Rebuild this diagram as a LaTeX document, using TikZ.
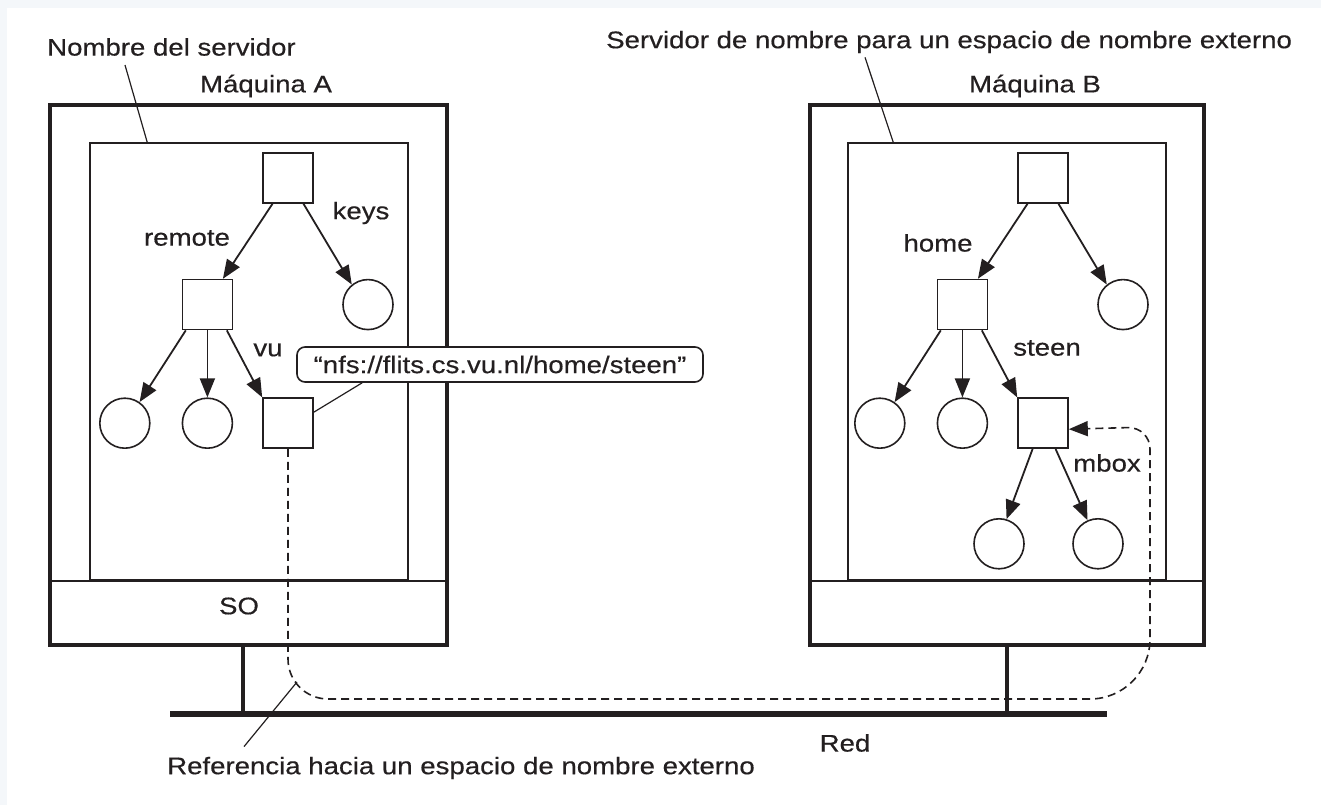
\documentclass[tikz,border=0pt]{standalone}
\usepackage{fontspec}
\setmainfont{Liberation Sans}[FakeStretch=1.15,FakeBold=0.4]
\usetikzlibrary{arrows.meta,positioning}
\definecolor{ink}{RGB}{35,31,32}
\definecolor{pagebg}{RGB}{244,247,250}
\newcommand{\lblfont}{\fontsize{24}{28}\selectfont}
\tikzset{
dirbox/.style={
  rectangle,
  line width=1.6pt,
  minimum size=50pt,
  inner sep=0pt,
  draw=ink,
  fill=white,
  }
}
\tikzset{
leafcirc/.style={
  circle,
  line width=1.6pt,
  minimum size=50pt,
  inner sep=0pt,
  draw=ink,
  }
}
\tikzset{
machine/.style={
  rectangle,
  line width=4pt,
  inner sep=0pt,
  draw=ink,
  },
server/.style={
  rectangle,
  line width=1.6pt,
  inner sep=0pt,
  draw=ink,
  },
callout/.style={
  rectangle,
  rounded corners=8pt,
  line width=1.6pt,
  inner sep=0pt,
  draw=ink,
  fill=white,
  }
}
\tikzset{
treeline/.style={
  line width=1.8pt,
  draw=ink,
  -{Triangle[length=19pt,width=15pt]}
  },
leader/.style={
  line width=1.2pt,
  draw=ink,
  },
refline/.style={
  line width=1.6pt,
  draw=ink,
  dash pattern=on 8pt off 5pt,
  -{Triangle[length=19pt,width=15pt]}
  },
net/.style={
  line width=5.5pt,
  draw=ink,
  }
}

\begin{document}
\begin{tikzpicture}[x=1pt,y=1pt,font=\lblfont,text=ink,inner sep=0pt]
    % page
    \fill[pagebg] (0,0) rectangle (1321,805);
    \fill[white] (7,0) rectangle (1321,797);
    \useasboundingbox (0,0) rectangle (1321,805);

    % machine A
    \node[machine, minimum width=397pt, minimum height=540pt] (outA) at (248.5,430) {};
    \node[server, minimum width=318pt, minimum height=437pt] (srvA) at (249,443.5) {};
    \draw[server] (outA.west |- srvA.south) -- (outA.east |- srvA.south);
    \node (soA) at (239,199) {SO};
    \node[anchor=west] (lblNA) at (47,758) {Nombre del servidor};
    \node (lblMA) at (266,719) {Máquina A};

    % machine B
    \node[machine, minimum width=394pt, minimum height=540pt] (outB) at (1007,430) {};
    \node[server, minimum width=318pt, minimum height=437pt] (srvB) at (1007,443.5) {};
    \draw[server] (outB.west |- srvB.south) -- (outB.east |- srvB.south);
    \node[anchor=west] (lblNB) at (606,763) {Servidor de nombre para un espacio de nombre externo};
    \node (lblMB) at (1035,719) {Máquina B};

    % tree A
    \node[dirbox] (rootA) at (288,627) {};
    \node[dirbox, below left=75pt and 29pt of rootA] (remoteA) {};
    \node[leafcirc, right=109pt of remoteA] (keysA) {};
    \node[leafcirc, below=67pt of remoteA] (cA2) {};
    \node[leafcirc, left=31pt of cA2] (cA1) {};
    \node[dirbox, right=29pt of cA2] (vuA) {};
    \node (lblRemote) at (187,567) {remote};
    \node (lblKeys) at (361,592) {keys};
    \node (lblVu) at (268,455) {vu};

    % tree B
    \node[dirbox] (rootB) at (1043,627) {};
    \node[dirbox, below left=75pt and 29pt of rootB] (homeB) {};
    \node[leafcirc, right=109pt of homeB] (cB3) {};
    \node[leafcirc, below=67pt of homeB] (cB2) {};
    \node[leafcirc, left=31pt of cB2] (cB1) {};
    \node[dirbox, right=29pt of cB2] (steenB) {};
    \node[leafcirc, below=69pt of steenB, xshift=-44pt] (mB1) {};
    \node[leafcirc, below=69pt of steenB, xshift=55pt] (mB2) {};
    \node (lblHome) at (938,562) {home};
    \node (lblSteen) at (1047,457) {steen};
    \node (lblMbox) at (1107,342) {mbox};

    % tree A edges
    \draw[treeline] (rootA.-121) -- (remoteA.59);
    \draw[treeline] (rootA.-59) -- (keysA.129);
    \draw[treeline] (remoteA.-130) -- (cA1.55);
    \draw[treeline] (remoteA.south) -- (cA2.north);
    \draw[treeline] (remoteA.-53) -- (vuA.north west);

    % tree B edges
    \draw[treeline] (rootB.-121) -- (homeB.59);
    \draw[treeline] (rootB.-59) -- (cB3.129);
    \draw[treeline] (homeB.-130) -- (cB1.55);
    \draw[treeline] (homeB.south) -- (cB2.north);
    \draw[treeline] (homeB.-53) -- (steenB.north west);
    \draw[treeline] (steenB.-112) -- (mB1.73);
    \draw[treeline] (steenB.-64) -- (mB2.114);

    % mount point
    \node[callout, minimum width=406pt, minimum height=35pt] (nfs) at (500,440.5) {“nfs://flits.cs.vu.nl/home/steen”};
    \draw[leader] ([yshift=11pt]vuA.east) -- ([xshift=66pt]nfs.south west);

    % network
    \coordinate (netL) at (170,91);
    \coordinate (netR) at (1107,91);
    \coordinate (tapA) at (243,91);
    \coordinate (tapB) at (1007,91);
    \draw[net] (netL) -- (netR);
    \draw[net, line width=4pt] (tapA |- outA.south) -- (tapA);
    \draw[net, line width=4pt] (tapB |- outB.south) -- (tapB);
    \node (lblRed) at (845,62) {Red};

    % reference to foreign name space
    \coordinate (bendA) at (288,106);
    \coordinate (bendB) at (1150,106);
    \coordinate (bendC) at (1150,378);
    \draw[refline] (vuA.south) [rounded corners=40pt] -- (bendA) [rounded corners=60pt] -- (bendB) [rounded corners=22pt] -- (bendC) -- ([yshift=-6pt]steenB.east);
    \coordinate (refpt) at (297,123);
    \node[anchor=west] (lblRef) at (167,37) {Referencia hacia un espacio de nombre externo};
    \draw[leader] ([shift={(77pt,10pt)}]lblRef.north west) -- (refpt);

    % leaders to name servers
    \draw[leader] ([shift={(78pt,-9pt)}]lblNA.south west) -- ([xshift=58pt]srvA.north west);
    \draw[leader] ([shift={(259pt,-4pt)}]lblNB.south west) -- ([xshift=46pt]srvB.north west);
\end{tikzpicture}
\end{document}
